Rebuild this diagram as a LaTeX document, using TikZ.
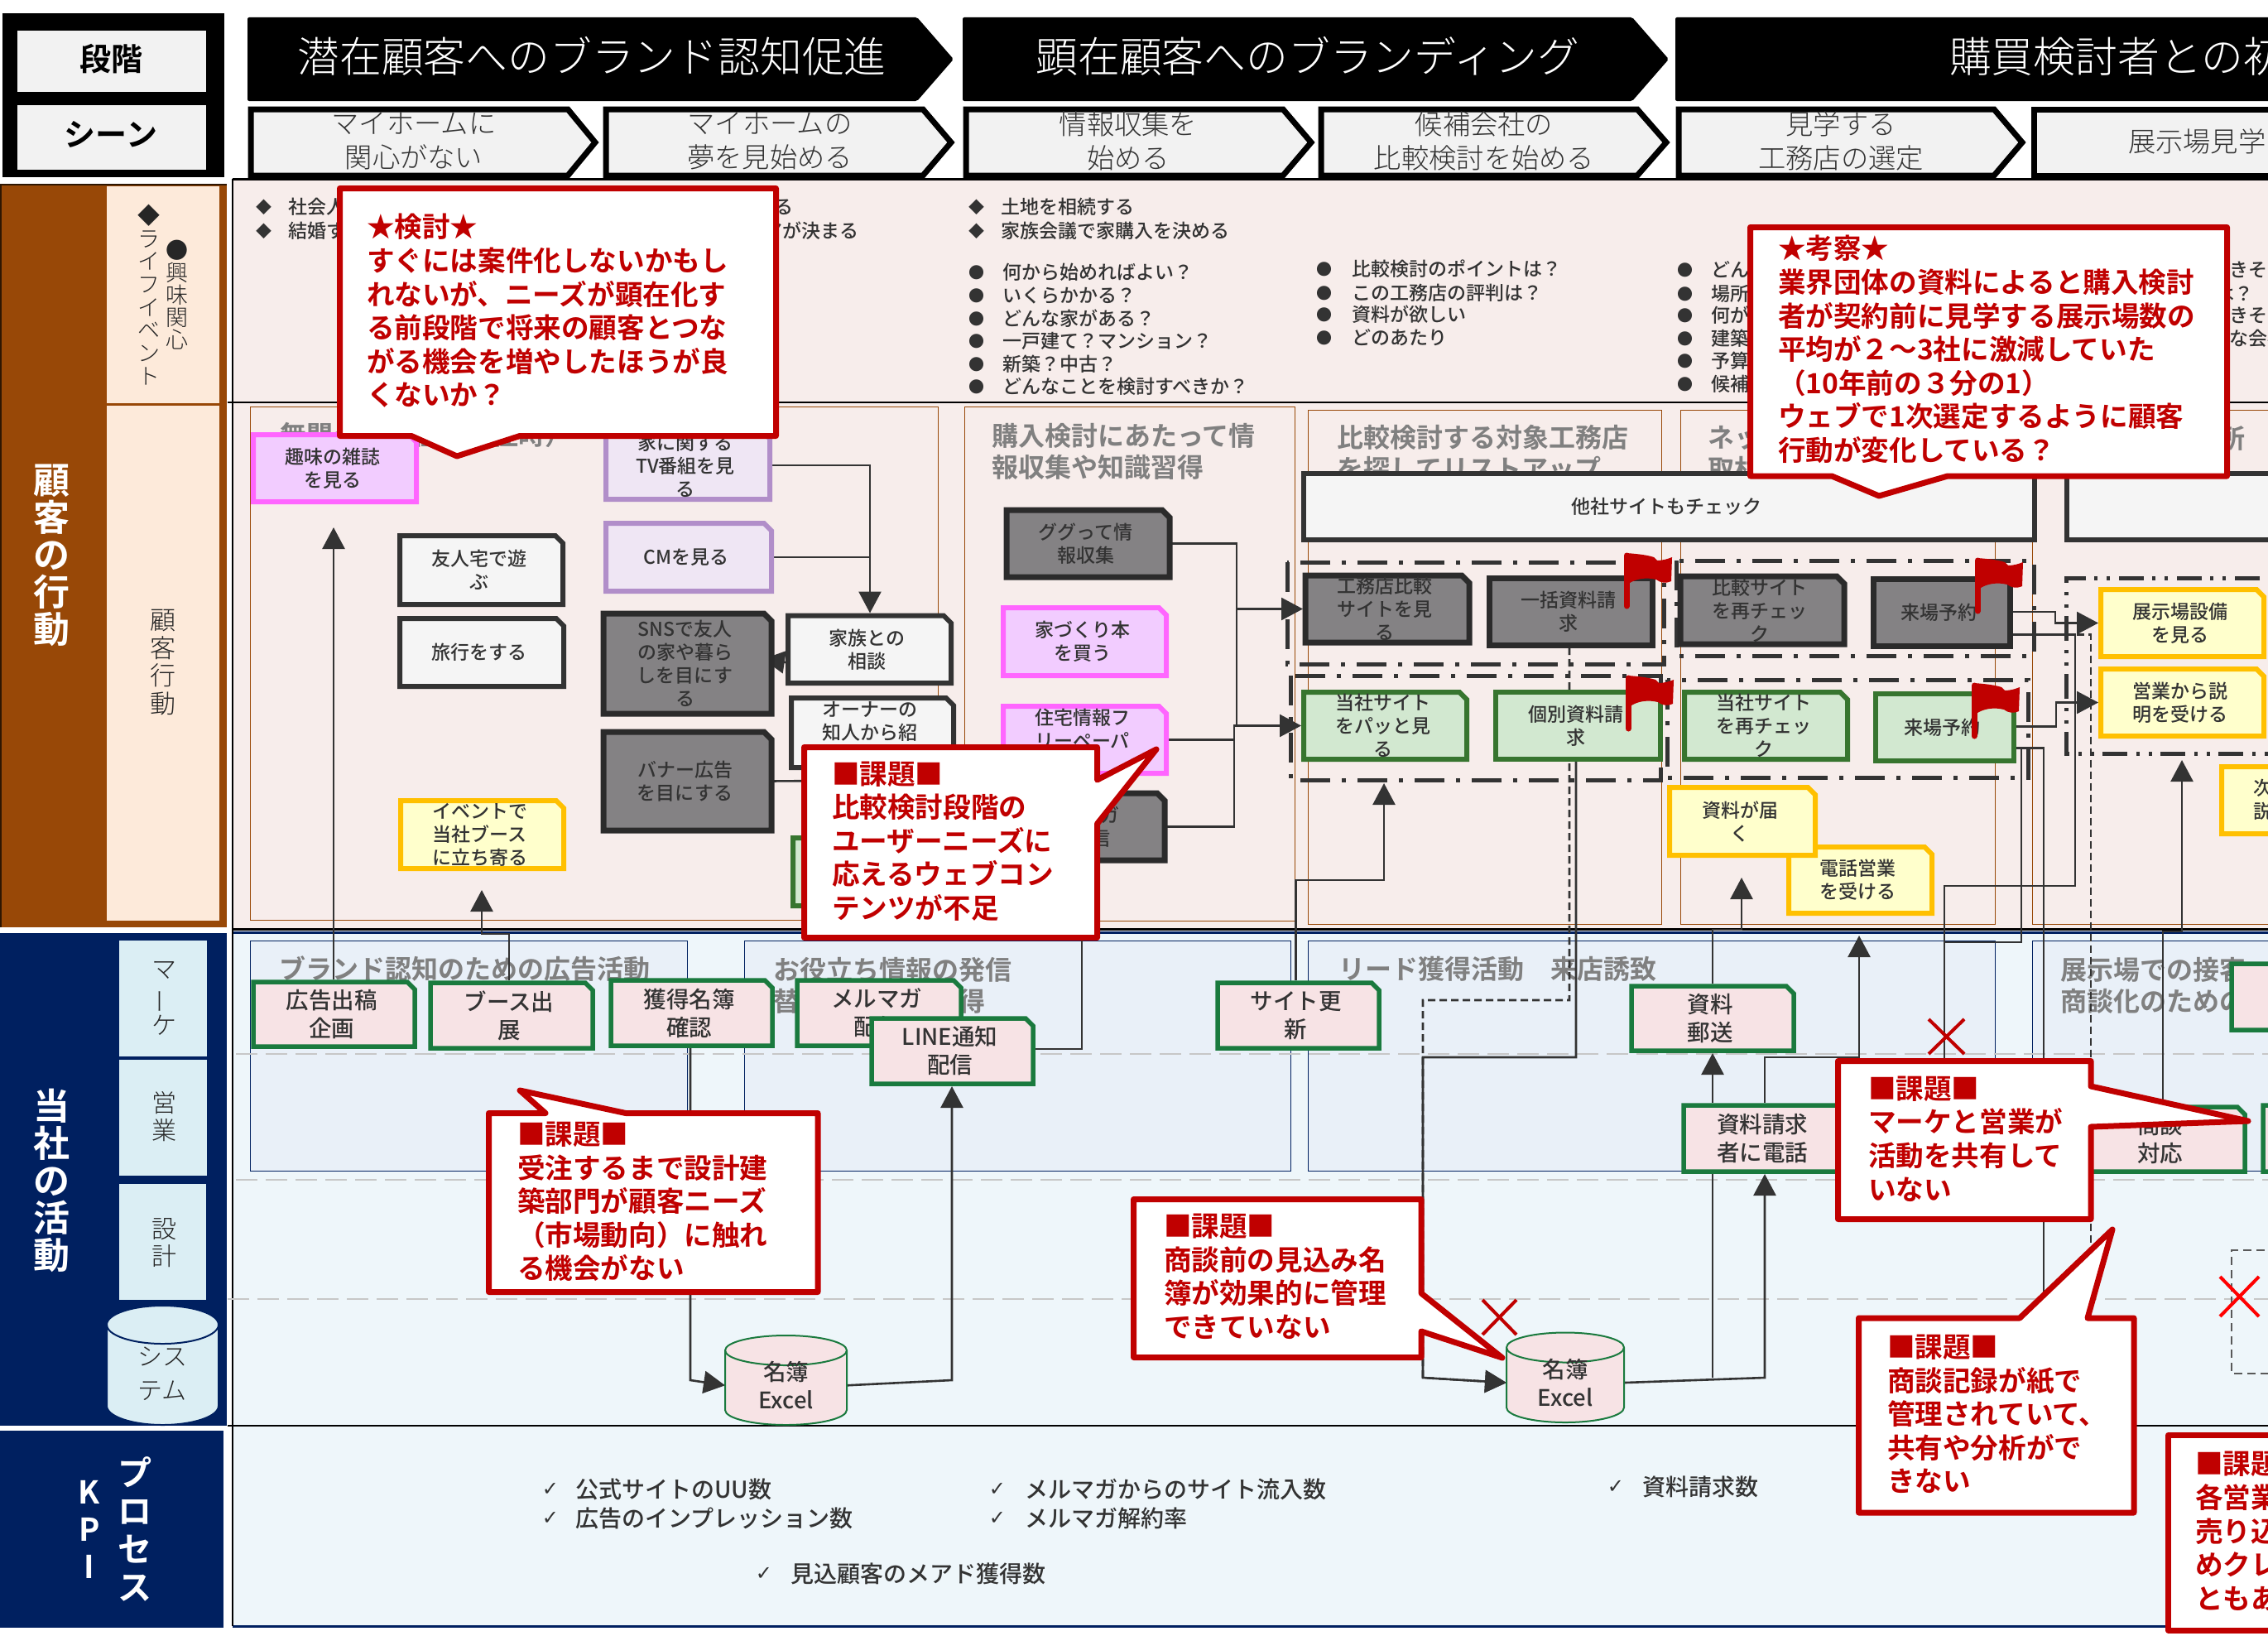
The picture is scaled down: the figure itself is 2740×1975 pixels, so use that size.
\documentclass[tikz,border=0pt]{standalone}
\usepackage{fontspec}
\usepackage{graphicx}
\setmainfont{Noto Sans CJK JP}[UprightFont=* Medium,BoldFont=* Bold]
\newfontfamily\lightf{Noto Sans CJK JP Light}
\newfontfamily\dejav{DejaVu Sans}
\usetikzlibrary{arrows.meta}
\definecolor{navy}{HTML}{002060}
\definecolor{brn}{HTML}{984807}
\definecolor{lbrn}{HTML}{FDEADA}
\definecolor{pinkbg}{HTML}{F7EDEB}
\definecolor{bluebg}{HTML}{EEF6FA}
\definecolor{blueframe}{HTML}{E9F0F8}
\definecolor{lab}{HTML}{DBEEF4}
\definecolor{dk}{HTML}{333333}
\definecolor{crimson}{HTML}{C00000}
\definecolor{actfill}{HTML}{F7E3E5}
\definecolor{actline}{HTML}{1A7A3E}
\newcount\tcnt
\newcommand\fsz[2]{\fontsize{#1}{#2}\selectfont}
\pgfdeclarelayer{band}
\pgfdeclarelayer{conn}
\pgfdeclarelayer{over}
\pgfsetlayers{band,conn,main,over}
\tikzset{
 txt/.style={inner sep=0pt,outer sep=0pt,align=center,text=dk},
 boxtxt/.style={inner sep=0pt,outer sep=0pt,align=center,text=dk,font=\fsz{23}{28}},
 acttxt/.style={inner sep=0pt,outer sep=0pt,align=center,text=dk,font=\fsz{27.5}{34}},
 darkb/.style={draw=dk,fill=black!4,line width=6pt},
 grayb/.style={draw=black!83,fill={rgb,255:red,132;green,130;blue,132},line width=7pt},
 greenb/.style={draw={rgb,255:red,55;green,117;blue,47},fill={rgb,255:red,210;green,232;blue,208},line width=6pt},
 yellowb/.style={draw={rgb,255:red,255;green,192;blue,0},fill={rgb,255:red,255;green,255;blue,204},line width=6pt},
 magb/.style={draw={rgb,255:red,255;green,102;blue,255},fill={rgb,255:red,242;green,204;blue,255},line width=6pt},
 purb/.style={draw={rgb,255:red,177;green,142;blue,201},fill={rgb,255:red,239;green,230;blue,244},line width=6pt},
 actb/.style={draw=actline,fill=actfill,line width=5.5pt},
 cylb/.style={draw=actline,fill=actfill,line width=2pt},
 cn/.style={draw=dk,line width=2.6pt},
 cna/.style={cn,-{Triangle[width=27pt,length=26pt]}},
 cnd/.style={cn,dash pattern=on 9pt off 5pt},
 dd/.style={draw=dk,line width=5pt,dash pattern=on 36pt off 14pt on 5pt off 14pt},
 ddd/.style={draw=dk,line width=5pt,dash pattern=on 30pt off 11pt on 4pt off 11pt on 4pt off 10pt},
 titleb/.style={fill=black,rounded corners=2pt},
 subch/.style={draw=black,fill=black!5,line width=7pt,line join=miter},
 call/.style={draw=crimson,fill=white,line width=7pt,line join=round},
 calltxt/.style={inner sep=0pt,outer sep=0pt,align=left,anchor=west,text=crimson,font=\fsz{33.6}{40.6}\bfseries},
 hd/.style={inner sep=0pt,outer sep=0pt,anchor=west,align=left,text={rgb,255:red,128;green,128;blue,128},font=\fsz{32}{38}\bfseries},
 cross/.style={draw=crimson,line width=4pt},
 rowdash/.style={draw=black!22,line width=2pt,dash pattern=on 26pt off 10pt},
 vw/.style={inner sep=0pt,outer sep=0pt,align=center,text=white,font=\fsz{44}{45}\bfseries},
 vk/.style={inner sep=0pt,outer sep=0pt,align=center,text=black!85},
}
\newcommand\T[4][]{\global\advance\tcnt by 1\relax\node[txt,#1] (t\the\tcnt) at (#2,#3) {#4};}
\def\sn{9}
\newcommand\snip[7]{%
 \path[#1] ({#3+3},{#4+3}) -- ({#5-3-\sn},{#4+3}) -- ({#5-3},{#4+3+\sn}) -- ({#5-3},{#6-3}) -- ({#3+3},{#6-3}) -- cycle;
 \node[boxtxt,minimum width={#5-#3-6},minimum height={#6-#4}] (#2) at ({(#3+#5)/2-3},{(#4+#6)/2}) {#7};}
\newcommand\actn[6]{%
 \path[actb] ({#2+3},{#3+3}) -- ({#4-3-\sn},{#3+3}) -- ({#4-3},{#3+3+\sn}) -- ({#4-3},{#5-3}) -- ({#2+3},{#5-3}) -- cycle;
 \node[acttxt,minimum width={#4-#2-6},minimum height={#5-#3}] (#1) at ({(#2+#4)/2-3},{(#3+#5)/2}) {#6};}
\newcommand\cyl[8]{% style name x1 y1 x2 y2 ry text
 \path[#1] (#3,{#6-#7}) arc[start angle=180,end angle=360,x radius={(#5-#3)/2*1pt},y radius={#7*1pt}] -- (#5,{#4+#7}) arc[start angle=0,end angle=180,x radius={(#5-#3)/2*1pt},y radius={#7*1pt}] -- cycle;
 \path[#1,fill=none] (#3,{#4+#7}) arc[start angle=180,end angle=360,x radius={(#5-#3)/2*1pt},y radius={#7*1pt}];
 \node[acttxt,minimum width={#5-#3},minimum height={#6-#4}] (#2) at ({(#3+#5)/2},{(#4+#6)/2+#7*.35}) {#8};}
\newcommand\B[5]{\T[font=\fsz{19}{22}]{#2}{#4}{#1}\T[anchor=west,font=\fsz{23}{28}]{#3}{#4}{#5}}
\newcommand\CK[4]{\T[font=\dejav\fsz{24}{28}]{#1}{#3}{✓}\T[anchor=west,font=\fsz{28}{34}]{#2}{#3}{#4}}
\newcommand\flagat[2]{%
 \draw[crimson,line width=7pt,line cap=round] (#1,{#2+3}) -- (#1,{#2+64});
 \fill[crimson] (#1,#2) .. controls ({#1+12},{#2+1}) and ({#1+24},{#2+2}) .. ({#1+33},{#2+5}) -- ({#1+37},{#2+9}) .. controls ({#1+44},{#2+9}) and ({#1+50},{#2+7}) .. ({#1+55},{#2+5}) -- ({#1+54},{#2+34}) .. controls ({#1+47},{#2+37}) and ({#1+41},{#2+36}) .. ({#1+36},{#2+32}) .. controls ({#1+24},{#2+29}) and ({#1+12},{#2+31}) .. ({#1+4},{#2+36}) -- cycle;}
\begin{document}
\begin{tikzpicture}[x=1pt,y=-1pt]
\useasboundingbox (0,0) rectangle (2740,1975);
\begin{pgfonlayer}{band}
\fill[white] (0,0) rectangle (2740,1975);
% header
\fill[black] (3,16) rectangle (271,214);
\fill[black!5] (21,37) rectangle (249,111);
\fill[black!5] (21,127) rectangle (249,205);
\T[font=\fsz{38}{40}\bfseries,text=black]{134}{71}{段階}
\T[font=\fsz{38}{40}\bfseries,text=black]{134}{162}{シーン}
\path[titleb] (299,21) -- (1108,21) -- (1152,71.5) -- (1108,122) -- (299,122) -- cycle;
\path[titleb] (1163,21) -- (1972,21) -- (2016,71.5) -- (1972,122) -- (1163,122) -- cycle;
\path[titleb] (2024,21) -- (2800,21) -- (2800,122) -- (2024,122) -- cycle;
\T[font=\lightf\fsz{50.8}{54},text=white]{715}{68}{潜在顧客へのブランド認知促進}
\T[font=\lightf\fsz{50.8}{54},text=white]{1580}{68}{顕在顧客へのブランディング}
\T[anchor=west,font=\lightf\fsz{50.8}{54},text=white]{2355}{68}{購買検討者との初}
% bands
\fill[pinkbg] (281,217) rectangle (2740,1122);
\fill[bluebg] (281,1127) rectangle (2740,1722);
\fill[bluebg] (281,1722) rectangle (2740,1964);
\draw[black,line width=3pt] (281,216) -- (2740,216);
\draw[black,line width=2.5pt] (275,486) -- (2740,486);
\draw[black,line width=3pt] (281,1122) -- (2740,1122);
\draw[navy,line width=2.5pt] (281,1126.5) -- (2740,1126.5);
\draw[black,line width=2.5pt] (275,1722) -- (2740,1722);
\draw[navy,line width=3pt] (281,1964) -- (2740,1964);
\draw[black,line width=2pt] (281,216) -- (281,1122);
\draw[black,line width=2pt] (281,1122) -- (281,1964);
% left columns
\fill[brn] (0,222) rectangle (274,1120);
\draw[black!70!brn,line width=2pt] (1,1120) -- (1,223) -- (274,223);
\fill[lbrn] (129,225) rectangle (265,487);
\fill[lbrn] (129,490) rectangle (265,1112);
\fill[navy] (0,1127) rectangle (274,1722);
\fill[navy] (0,1728) rectangle (270,1966);
\fill[lab] (144,1136) rectangle (250,1276);
\fill[lab] (144,1280) rectangle (250,1420);
\fill[lab] (144,1430) rectangle (249,1570);
\path[draw=navy,fill=lab,line width=2pt] (129,1698) arc[start angle=180,end angle=360,x radius=67.5pt,y radius=23pt] -- (264,1600) arc[start angle=0,end angle=180,x radius=67.5pt,y radius=23pt] -- cycle;
\draw[navy,line width=2pt] (129,1600) arc[start angle=180,end angle=360,x radius=67.5pt,y radius=23pt];
\T[vw]{62}{671}{顧\\客\\の\\行\\動}
\T[vw]{62}{1426}{当\\社\\の\\活\\動}
\T[vw,font=\fsz{41}{46}\bfseries]{163}{1847}{プ\\ロ\\セ\\ス}
\T[vw,font=\fsz{38}{45}\bfseries]{108}{1847}{K\\P\\I}
\T[vk,font=\lightf\fsz{27}{27.7}]{180}{356}{◆\\ラ\\イ\\フ\\イ\\ベ\\ン\\ト}
\T[vk,font=\lightf\fsz{27}{27.2}]{214}{356}{●\\興\\味\\関\\心}
\T[vk,font=\lightf\fsz{31}{33.5}]{197}{800}{顧\\客\\行\\動}
\T[vk,font=\lightf\fsz{30}{34}]{198}{1206}{マ\\\rotatebox[origin=c]{90}{ー}\\ケ}
\T[vk,font=\lightf\fsz{30}{33}]{198}{1349}{営\\業}
\T[vk,font=\lightf\fsz{30}{33}]{198}{1501}{設\\計}
\T[vk,font=\lightf\fsz{30}{41}]{196}{1659}{シス\\テム}
% section frames row2
\draw[brn,line width=1pt] (302,491) rectangle (1133,1111);
\draw[brn,line width=1pt] (1165,491) rectangle (1564,1112);
\draw[brn,line width=1pt] (1580,495) rectangle (2007,1116);
\draw[brn,line width=1pt] (2030,495) rectangle (2410,1116);
\draw[brn,line width=1pt] (2455,495) rectangle (2800,1116);
\T[hd]{338}{525}{無関心（現在の居住時）}
\T[hd]{1198}{545}{購入検討にあたって情\\報収集や知識習得}
\T[hd]{1615}{547}{比較検討する対象工務店\\を探してリストアップ}
\T[hd]{2063}{548}{ネットで\\取材}
\T[hd,anchor=east]{2712}{530}{展示場の場所}
% frames row3
\draw[navy,fill=blueframe,line width=1pt] (302,1136) rectangle (830,1414);
\draw[navy,fill=blueframe,line width=1pt] (899,1136) rectangle (1559,1414);
\draw[navy,fill=blueframe,line width=1pt] (1580,1136) rectangle (2410,1414);
\draw[navy,fill=blueframe,line width=1pt] (2455,1136) rectangle (2800,1414);
\T[hd]{337}{1170}{ブランド認知のための広告活動}
\T[hd]{934}{1190}{お役立ち情報の発信\\替え検討者の獲得}
\T[hd]{1617}{1170}{リード獲得活動　来店誘致}
\T[hd]{2489}{1190}{展示場での接客\\商談化のための}
\draw[rowdash] (285,1273) -- (2740,1273);
\draw[rowdash] (285,1425) -- (2740,1425);
\draw[rowdash] (275,1569) -- (2740,1569);
% row1 text
\B{◆}{319}{348}{250}{社会人になる}
\B{◆}{319}{348}{279}{結婚する}
\T[anchor=east,font=\fsz{23}{28}]{958}{250}{子供が生まれる}
\T[anchor=east,font=\fsz{23}{28}]{1037}{279}{住むエリアが決まる}
\B{◆}{1180}{1209}{250}{土地を相続する}
\B{◆}{1180}{1209}{279}{家族会議で家購入を決める}
\B{●}{1180}{1211}{329}{何から始めればよい？}
\B{●}{1180}{1211}{357}{いくらかかる？}
\B{●}{1180}{1211}{385}{どんな家がある？}
\B{●}{1180}{1211}{412}{一戸建て？マンション？}
\B{●}{1180}{1211}{440}{新築？中古？}
\B{●}{1180}{1211}{467}{どんなことを検討すべきか？}
\B{●}{1600}{1633}{325}{比較検討のポイントは？}
\B{●}{1600}{1633}{354}{この工務店の評判は？}
\B{●}{1600}{1633}{380}{資料が欲しい}
\B{●}{1600}{1633}{408}{どのあたり}
\B{●}{2036}{2067}{326}{どんな会社か？}
\B{●}{2036}{2067}{355}{場所は？}
\B{●}{2036}{2067}{381}{何ができる？}
\B{●}{2036}{2067}{409}{建築実績は？}
\B{●}{2036}{2067}{436}{予算は？}
\B{●}{2036}{2067}{464}{候補は？}
\T[anchor=west,font=\fsz{23}{28}]{2693}{326}{きそう}
\T[anchor=east,font=\fsz{23}{28}]{2722}{355}{は？}
\T[anchor=west,font=\fsz{23}{28}]{2693}{381}{きそう}
\T[anchor=west,font=\fsz{23}{28}]{2693}{409}{な会社}
% KPI
\CK{665}{695}{1799}{公式サイトのUU数}
\CK{665}{695}{1834}{広告のインプレッション数}
\CK{1205}{1238}{1799}{メルマガからのサイト流入数}
\CK{1205}{1238}{1834}{メルマガ解約率}
\CK{923}{955}{1901}{見込顧客のメアド獲得数}
\CK{1952}{1984}{1796}{資料請求数}
\end{pgfonlayer}
% sub chevrons
\path[subch] (303,132) -- (686,132) -- (719,172) -- (686,212) -- (303,212) -- cycle;
\path[subch] (732,132) -- (1115,132) -- (1149,172) -- (1115,212) -- (732,212) -- cycle;
\path[subch] (1167,132) -- (1550,132) -- (1584,172) -- (1550,212) -- (1167,212) -- cycle;
\path[subch] (1596,132) -- (1978,132) -- (2013,172) -- (1978,212) -- (1596,212) -- cycle;
\path[subch] (2028,132) -- (2409,132) -- (2443,172) -- (2409,212) -- (2028,212) -- cycle;
\path[subch] (2457,132) -- (2800,132) -- (2800,212) -- (2457,212) -- cycle;
\T[font=\lightf\fsz{33.3}{41}]{500}{170}{マイホームに\\関心がない}
\T[font=\lightf\fsz{33.3}{41}]{930}{170}{マイホームの\\夢を見始める}
\T[font=\lightf\fsz{33.3}{41}]{1363}{170}{情報収集を\\始める}
\T[font=\lightf\fsz{33.3}{41}]{1793}{170}{候補会社の\\比較検討を始める}
\T[font=\lightf\fsz{33.3}{41}]{2224}{170}{見学する\\工務店の選定}
\T[anchor=west,font=\lightf\fsz{33.3}{41}]{2571}{171}{展示場見学}
% behaviour boxes
\snip{magb}{hob}{303}{522}{506}{609}{趣味の雑誌\\を見る}
\snip{purb}{tv}{729}{518}{933}{606}{家に関する\\TV番組を見\\る}
\snip{purb}{cm}{729}{629}{935}{717}{CMを見る}
\snip{darkb}{yj}{480}{644}{683}{733}{友人宅で遊\\ぶ}
\snip{darkb}{ryo}{480}{744}{684}{832}{旅行をする}
\snip{grayb}{sns}{726}{738}{935}{865}{SNSで友人\\の家や暮ら\\しを目にす\\る}
\snip{grayb}{ban}{726}{881}{935}{1006}{バナー広告\\を目にする}
\snip{darkb}{kaz}{949}{740.5}{1152}{828}{家族との\\相談}
\snip{darkb}{own}{953}{840}{1155}{930}{オーナーの\\知人から紹\\介}
\snip{yellowb}{evt}{481}{964}{684}{1052}{イベントで\\当社ブース\\に立ち寄る}
\snip{greenb}{grn}{955}{1009}{1158}{1097}{}
\snip{grayb}{gg}{1213}{613}{1416}{700}{ググって情\\報収集}
\snip{magb}{hon}{1209}{731}{1412}{819}{家づくり本\\を買う}
\snip{magb}{fp}{1209}{850}{1412}{937}{住宅情報フ\\リーペーパ\\ー}
\snip{grayb}{mlr}{1209}{955}{1410}{1042}{メルマガ\\を受信}
\begingroup\def\sn{0}
\snip{darkb}{ts1}{1572}{569}{2461}{655}{他社サイトもチェック}
\snip{darkb}{ts2}{2494}{569}{2800}{655}{}
\snip{grayb}{ik}{1796}{695}{1999}{782}{一括資料請\\求}
\snip{grayb}{rg}{2260}{696}{2431}{783}{来場予約}
\snip{greenb}{ko}{1804}{833}{2009}{920}{個別資料請\\求}
\snip{greenb}{rw}{2263}{835}{2436}{922}{来場予約}
\endgroup
\snip{grayb}{kc}{1574}{692}{1778}{779}{工務店比較\\サイトを見\\る}
\snip{grayb}{hk}{2027}{693}{2231}{781}{比較サイト\\を再チェッ\\ク}
\snip{greenb}{ts}{1572}{833}{1775}{920}{当社サイト\\をパッと見\\る}
\snip{greenb}{sai}{2032}{833}{2235}{920}{当社サイト\\を再チェッ\\ク}
\snip{yellowb}{den}{2158}{1020}{2337}{1106}{電話営業\\を受ける}
\snip{yellowb}{tod}{2014}{948}{2196}{1036}{資料が届\\く}
\snip{yellowb}{ten}{2535}{709}{2738}{796}{展示場設備\\を見る}
\snip{yellowb}{eig}{2535}{805}{2738}{892}{営業から説\\明を受ける}
\snip{yellowb}{ji}{2681}{923}{2800}{1010}{}
\T[anchor=west,align=left,font=\fsz{23}{28}]{2722}{966}{次\\説}
% activity boxes
\actn{kk}{303}{1183}{504}{1267}{広告出稿\\企画}
\actn{bu}{517}{1184}{719}{1269}{ブース出\\展}
\actn{kd}{735}{1181}{936}{1266}{獲得名簿\\確認}
\actn{mm}{960}{1181}{1164}{1266}{メルマガ\\配信}
\actn{ln}{1050}{1227}{1251}{1312}{LINE通知\\配信}
\actn{su}{1468}{1184}{1669}{1269}{サイト更\\新}
\actn{yu}{1968}{1188}{2170}{1272}{資料\\郵送}
\actn{te}{2031}{1332}{2233}{1418}{資料請求\\者に電話}
\actn{sd}{2510}{1334}{2715}{1418}{商談\\対応}
\actn{x2}{2731}{1332}{2900}{1418}{}
\actn{tr}{2693}{1161}{2900}{1247}{}
\cyl{cylb}{xl}{876}{1613}{1023}{1721}{18}{名簿\\Excel}
\cyl{cylb}{xr}{1820}{1609.5}{1962}{1718}{18}{名簿\\Excel}
\coordinate (e1) at (403,637);
\coordinate (e2) at (582,1075);
\coordinate (e5) at (922,796);
\coordinate (e6) at (1000,943);
\coordinate (e10) at (1672,946);
\coordinate (e11) at (1307,1100);
\coordinate (e16) at (2104,1060);
\coordinate (e19) at (2246,1130);
\coordinate (e20) at (2349,1290);
\coordinate (e21) at (2469,1600);
\coordinate (e24) at (2526,1600);
\coordinate (e25) at (2636,918);
\begin{pgfonlayer}{conn}
\draw[dd] (1555,679) rectangle (2010,802);
\draw[dd] (1559,816) rectangle (2006,942);
\draw[dd] (2025,677) rectangle (2457,792);
\draw[dd] (2014,821) rectangle (2450,939);
\draw[ddd] (2800,698) -- (2496,698) -- (2496,910) -- (2800,910);
\draw[cna] (kk.north -| 403,0) -- (e1);
\draw[cna] (bu.north) -- (615,1128) -- (582,1128) -- (e2);
\draw[cna] (tv.east |- 0,562) -- (1051,562) -- (kaz.north -| 1051,0);
\draw[cn] (cm.east) -- (cm.east -| 1051,0);
\draw[cna] (kaz.west |- 0,800) -- (e5);
\draw[cn] (ban.east) -- (e6);
\draw[cna] (gg.east) -- (1494,656.5) -- (1494,735.5) -- (kc.west);
\draw[cn] (1494,735.5) -- (1494,876);
\draw[cna] (fp.east) -- (1491,893.5) -- (1491,876.5) -- (ts.west);
\draw[cn] (mlr.east) -- (1491,998.5) -- (1491,876);
\draw[cna] (su.north) -- (su.north |- 0,1063) -- (1672,1063) -- (e10);
\draw[cn] (ln.east |- 0,1267) -- (1307,1267) -- (e11);
\draw[cna] (kd.south -| 834,0) -- (834,1667) -- (xl.west);
\draw[cna] (xl.east) -- (1150,1667) -- (ln.south -| 1150,0);
\draw[cnd,-{Triangle[width=27pt,length=26pt]}] (ik.south -| 1896,0) -- (1896,1208) -- (1719,1208) -- (1719,1664) -- (xr.west);
\draw[cna] (ko.south -| 1904,0) -- (1904,1277) -- (1719,1277) -- (1719,1664) -- (xr.west);
\draw[cna] (yu.north -| 2069,0) -- (2069,1123) -- (2104,1123) -- (e16);
\draw[cna] (te.north -| 2069,0) -- (yu.south -| 2069,0);
\draw[cna] (xr.east) -- (2132,1664) -- (te.south -| 2132,0);
\draw[cn] (2069,1664) -- (te.south -| 2069,0);
\draw[cna] (te.north -| 2132,0) -- (2132,1277) -- (2246,1277) -- (e19);
\draw[cn] (rg.east |- 0,766.6) -- (2507,766.6) -- (2507,1070) -- (2349,1070) -- (e20);
\draw[cn] (rw.east |- 0,903.6) -- (2442,903.6) -- (2442,1138) -- (2349,1138);
\draw[cn] (2442,903.6) -- (2469,903.6) -- (e21);
\draw[cna] (rg.east |- 0,739) -- (2483,739) -- (2483,752.5) -- (ten.west);
\draw[cna] (rw.east |- 0,877.5) -- (2484,877.5) -- (2484,848.5) -- (eig.west);
\draw[cnd] (rg.east |- 0,766.6) -- (2526,766.6) -- (e24);
\draw[cna] (sd.north -| 2613,0) -- (2613,1125) -- (2636,1125) -- (e25);
\draw[draw=black!65,line width=2.5pt,dash pattern=on 10pt off 6pt] (2800,1510) -- (2696,1510) -- (2696,1659) -- (2800,1659);
\end{pgfonlayer}
\flagat{1965}{668}
\flagat{2389}{674}
\flagat{1967}{816}
\flagat{2385}{825}
\draw[cross] (1791,1570) -- (1832,1612);
\draw[cross] (1832,1570) -- (1791,1612);
\draw[cross] (2330,1231) -- (2373,1273);
\draw[cross] (2373,1231) -- (2330,1273);
\draw[cross,draw=red] (2682,1542) -- (2729,1590);
\draw[cross,draw=red] (2729,1542) -- (2682,1590);
\begin{pgfonlayer}{over}
\path[call] (410.5,227.5) -- (937.5,227.5) -- (937.5,526.5) -- (628,526.5) -- (552,551) -- (497,526.5) -- (410.5,526.5) -- cycle;
\node[calltxt] (c1) at (443,375.5) {★検討★\\すぐには案件化しないかもし\\れないが、ニーズが顕在化す\\る前段階で将来の顧客とつな\\がる機会を増やしたほうが良\\くないか？};
\path[call] (2114.5,274.5) -- (2690.5,274.5) -- (2690.5,575) -- (2353,575) -- (2270,599) -- (2213,575) -- (2114.5,575) -- cycle;
\node[calltxt] (c2) at (2148,422) {★考察★\\業界団体の資料によると購入検討\\者が契約前に見学する展示場数の\\平均が２～3社に激減していた\\（10年前の３分の1）\\ウェブで1次選定するように顧客\\行動が変化している？};
\path[call] (971.5,902.5) -- (1325.5,902.5) -- (1325.5,942) -- (1397,905) -- (1325.5,995) -- (1325.5,1132.5) -- (971.5,1132.5) -- cycle;
\node[calltxt] (c3) at (1005,1016) {■課題■\\比較検討段階の\\ユーザーニーズに\\応えるウェブコン\\テンツが不足};
\path[call] (590.5,1344.5) -- (659,1344.5) -- (628,1317) -- (756,1344.5) -- (988,1344.5) -- (988,1560.5) -- (590.5,1560.5) -- cycle;
\node[calltxt] (c4) at (625,1451.5) {■課題■\\受注するまで設計建\\築部門が顧客ニーズ\\（市場動向）に触れ\\る機会がない};
\path[call] (1369.5,1448.5) -- (1717,1448.5) -- (1717,1562) -- (1815,1640) -- (1717,1608) -- (1717,1639.5) -- (1369.5,1639.5) -- cycle;
\node[calltxt] (c5) at (1406,1542) {■課題■\\商談前の見込み名\\簿が効果的に管理\\できていない};
\path[call] (2220.5,1281.5) -- (2526,1281.5) -- (2526,1312) -- (2716,1354) -- (2526,1361) -- (2526,1472.5) -- (2220.5,1472.5) -- cycle;
\node[calltxt] (c6) at (2257,1375.5) {■課題■\\マーケと営業が\\活動を共有して\\いない};
\path[call] (2245.5,1592) -- (2440,1592) -- (2552,1485) -- (2522,1592) -- (2578,1592) -- (2578,1827) -- (2245.5,1827) -- cycle;
\node[calltxt] (c7) at (2280,1708) {■課題■\\商談記録が紙で\\管理されていて、\\共有や分析がで\\きない};
\path[call] (2619.5,1733.5) -- (2800,1733.5) -- (2800,1969) -- (2619.5,1969) -- cycle;
\node[calltxt] (c8) at (2652,1849.5) {■課題■\\各営業が個別に\\売り込みすぎるた\\めクレームになるこ\\ともある};
\end{pgfonlayer}
\end{tikzpicture}
\end{document}
